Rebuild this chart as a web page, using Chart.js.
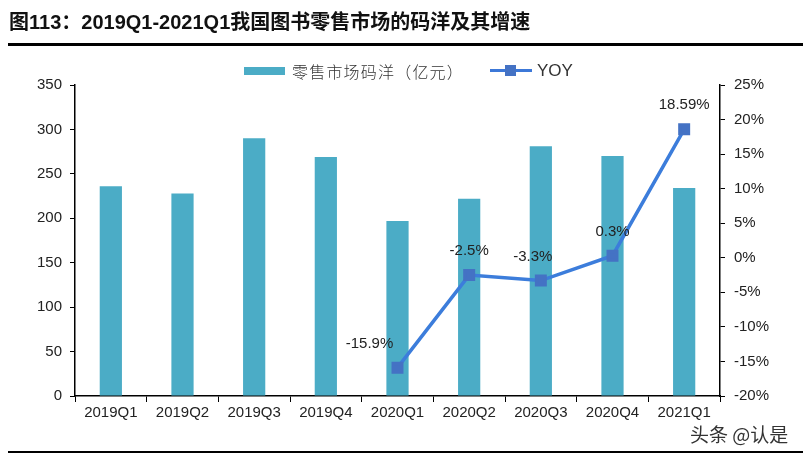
<!DOCTYPE html>
<html><head><meta charset="utf-8">
<script src="https://cdn.jsdelivr.net/npm/chart.js@4/dist/chart.umd.min.js"></script>
<style>
html,body{margin:0;padding:0;background:#fff;}
#wrap{position:relative;width:810px;height:458px;overflow:hidden;font-family:"Liberation Sans",Arial,sans-serif;}
#title{position:absolute;left:9px;top:6px;font-size:20px;font-weight:bold;color:#111;font-family:"Liberation Sans","Noto Sans CJK SC",sans-serif;white-space:nowrap;}
#rule1{position:absolute;left:8px;top:43px;width:795px;height:3px;background:#000;}
#rule2{position:absolute;left:8px;top:451px;width:795px;height:2px;background:#000;}
#legend{position:absolute;top:56px;left:244px;font-size:16px;color:#333;white-space:nowrap;font-family:"Noto Sans CJK SC",sans-serif;}
.sw{display:inline-block;vertical-align:middle;}
#wm{position:absolute;left:690px;top:420px;font-size:19px;color:#333;font-family:"Noto Sans CJK SC",sans-serif;}
canvas{position:absolute;left:0;top:0;}
</style></head>
<body><div id="wrap">
<canvas id="c" width="810" height="458"></canvas>
<div id="title">图113：2019Q1-2021Q1我国图书零售市场的码洋及其增速</div>
<div id="rule1"></div>
<div id="legend"><span class="sw" style="width:41px;height:8px;background:#4bacc6;margin-right:7px;"></span><span style="vertical-align:middle;letter-spacing:1.2px;font-weight:300;">零售市场码洋（亿元）</span><span class="sw" style="position:relative;width:42px;height:3px;background:#3c78d8;margin-left:26px;margin-right:5px;"><span style="position:absolute;left:15px;top:-4px;width:11px;height:11px;background:#4472c4;"></span></span><span style="vertical-align:middle;font-family:'Liberation Sans',Arial,sans-serif;font-size:17px;">YOY</span></div>
<div id="wm">头条 @认是</div>
<div id="rule2"></div>
</div>
<script>
const categories = ['2019Q1','2019Q2','2019Q3','2019Q4','2020Q1','2020Q2','2020Q3','2020Q4','2021Q1'];
const salesValues = [236, 228, 290, 269, 197, 222, 281, 270, 234];
const yoyValues = [null, null, null, null, -15.9, -2.5, -3.3, 0.3, 18.59];
const yoyLabels = ['', '', '', '', '-15.9%', '-2.5%', '-3.3%', '0.3%', '18.59%'];
const yoyLabelDx = [0, 0, 0, 0, -28, 0, -8, 0, 0];

const labelPlugin = {
  id: 'yoyLabels',
  afterDatasetsDraw(chart) {
    const ctx = chart.ctx;
    const meta = chart.getDatasetMeta(1);
    ctx.save();
    ctx.font = '15px "Liberation Sans", Arial, sans-serif';
    ctx.fillStyle = '#222';
    ctx.textAlign = 'center';
    ctx.textBaseline = 'middle';
    meta.data.forEach((pt, i) => {
      if (yoyValues[i] === null) return;
      ctx.fillText(yoyLabels[i], pt.x + yoyLabelDx[i], pt.y - 24);
    });
    ctx.restore();
  }
};

const tickFont = {family: '"Liberation Sans", Arial, sans-serif', size: 15};
new Chart(document.getElementById('c'), {
  type: 'bar',
  data: {
    labels: categories,
    datasets: [
      {type: 'bar', data: salesValues, backgroundColor: '#4bacc6', yAxisID: 'y', categoryPercentage: 1, barPercentage: 0.31, order: 2},
      {type: 'line', data: yoyValues, borderColor: '#3c7ddb', borderWidth: 3.5, pointStyle: 'rect', pointRadius: 6, pointBackgroundColor: '#4472c4', pointBorderColor: '#4472c4', yAxisID: 'y1', order: 1, spanGaps: false}
    ]
  },
  options: {
    responsive: false,
    animation: false,
    layout: {padding: {top: 85, bottom: 0, left: 0, right: 0}},
    plugins: {legend: {display: false}, tooltip: {enabled: false}},
    scales: {
      x: {
        grid: {display: true, drawOnChartArea: false, drawTicks: true, tickLength: 6, color: '#000', offset: true},
        border: {display: true, color: '#000', width: 1.5},
        ticks: {font: tickFont, color: '#222', padding: 2, maxRotation: 0},
        afterFit(s) { s.height = 62; }
      },
      y: {
        position: 'left', min: 0, max: 350,
        grid: {display: true, drawOnChartArea: false, drawTicks: true, tickLength: 5, color: '#000'},
        border: {display: true, color: '#000', width: 1.5},
        ticks: {font: tickFont, color: '#222', stepSize: 50, padding: 8},
        afterFit(s) { s.width = 75; }
      },
      y1: {
        position: 'right', min: -20, max: 25,
        grid: {display: true, drawOnChartArea: false, drawTicks: true, tickLength: 5, color: '#000'},
        border: {display: true, color: '#000', width: 1.5},
        ticks: {font: tickFont, color: '#222', stepSize: 5, padding: 9, callback: v => v + '%'},
        afterFit(s) { s.width = 90; }
      }
    }
  },
  plugins: [labelPlugin]
});
</script>
</body></html>
